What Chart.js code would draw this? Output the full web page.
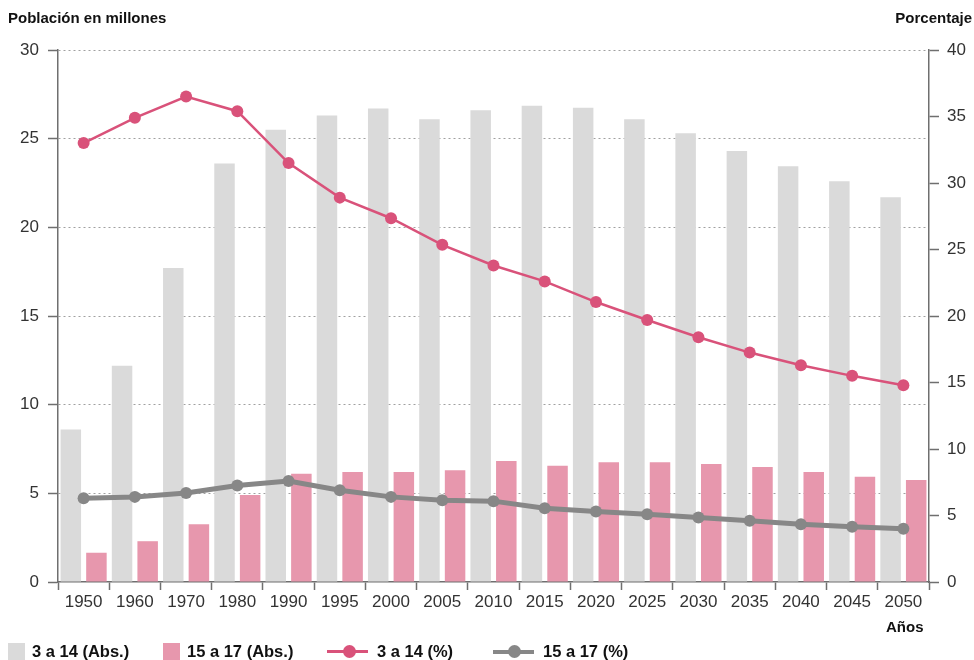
<!DOCTYPE html>
<html>
<head>
<meta charset="utf-8">
<script src="https://cdn.jsdelivr.net/npm/chart.js@4"></script>
<style>
  body { margin: 0; background: #fff; font-family: "Liberation Sans", Arial, sans-serif; }
  #wrap { position: relative; width: 974px; height: 660px; overflow: hidden; }
  #chart { position: absolute; left: 0; top: 0; }
  .title { position: absolute; font-weight: bold; font-size: 15px; color: #111; }
  .leg { position: absolute; top: 643px; height: 17px; font-weight: bold; font-size: 16.5px; color: #111; line-height: 17px; white-space: nowrap; }
  .sq { position: absolute; top: 643px; width: 17px; height: 17px; }
  .ln { position: absolute; top: 650px; height: 3px; width: 41px; }
  .dot { position: absolute; top: 645px; width: 13px; height: 13px; border-radius: 50%; }
</style>
</head>
<body>
<div id="wrap">
  <canvas id="chart" width="974" height="660"></canvas>
  <div class="title" style="left:8px; top:9px;">Población en millones</div>
  <div class="title" style="right:2px; top:9px;">Porcentaje</div>
  <div class="title" style="left:886px; top:618px;">Años</div>

  <div class="sq" style="left:8px; background:#dadada;"></div>
  <div class="leg" style="left:32px;">3 a 14 (Abs.)</div>
  <div class="sq" style="left:163px; background:#e797ad;"></div>
  <div class="leg" style="left:187px;">15 a 17 (Abs.)</div>
  <div class="ln" style="left:327px; background:#d9527a;"></div>
  <div class="dot" style="left:343px; background:#d9527a;"></div>
  <div class="leg" style="left:377px;">3 a 14 (%)</div>
  <div class="ln" style="left:493px; background:#878787; height:4px; top:650px;"></div>
  <div class="dot" style="left:508px; background:#878787;"></div>
  <div class="leg" style="left:543px;">15 a 17 (%)</div>
</div>
<script>
const years = ["1950", "1960", "1970", "1980", "1990", "1995", "2000", "2005", "2010", "2015", "2020", "2025", "2030", "2035", "2040", "2045", "2050"];

// millones (eje izquierdo)
const abs3a14 = [8.6, 12.2, 17.7, 23.6, 25.5, 26.3, 26.7, 26.1, 26.6, 26.85, 26.75, 26.1, 25.3, 24.3, 23.45, 22.6, 21.7];
const abs15a17 = [1.65, 2.3, 3.25, 4.9, 6.1, 6.2, 6.2, 6.3, 6.82, 6.56, 6.75, 6.75, 6.65, 6.49, 6.2, 5.94, 5.75];

// porcentaje (eje derecho)
const pct3a14 = [33.0, 34.9, 36.5, 35.4, 31.5, 28.9, 27.35, 25.35, 23.8, 22.6, 21.05, 19.7, 18.4, 17.25, 16.3, 15.5, 14.8];
const pct15a17 = [6.3, 6.4, 6.7, 7.25, 7.6, 6.9, 6.4, 6.15, 6.08, 5.55, 5.3, 5.1, 4.85, 4.6, 4.35, 4.15, 4.0];

const tickFont = { family: "'Liberation Sans', Arial, sans-serif", size: 17 };
const axisCol = "#6f6f6f";

const ctx = document.getElementById("chart").getContext("2d");

new Chart(ctx, {
  type: "bar",
  data: {
    labels: years,
    datasets: [
      {
        type: "line",
        label: "3 a 14 (%)",
        data: pct3a14,
        yAxisID: "y2",
        borderColor: "#d9527a",
        backgroundColor: "#d9527a",
        borderWidth: 2.5,
        pointRadius: 6,
        pointBorderWidth: 0,
        tension: 0,
        order: 0,
      },
      {
        type: "line",
        label: "15 a 17 (%)",
        data: pct15a17,
        yAxisID: "y2",
        borderColor: "#878787",
        backgroundColor: "#878787",
        borderWidth: 5,
        pointRadius: 6,
        pointBorderWidth: 0,
        tension: 0,
        order: 1,
      },
      {
        label: "3 a 14 (Abs.)",
        data: abs3a14,
        yAxisID: "y",
        backgroundColor: "#dadada",
        categoryPercentage: 1,
        barPercentage: 0.8,
        order: 2,
      },
      {
        label: "15 a 17 (Abs.)",
        data: abs15a17,
        yAxisID: "y",
        backgroundColor: "#e797ad",
        categoryPercentage: 1,
        barPercentage: 0.8,
        order: 3,
      },
    ],
  },
  options: {
    responsive: false,
    animation: false,
    layout: { padding: { top: 50, bottom: 48, left: 0, right: 0 } },
    plugins: {
      legend: { display: false },
      tooltip: { enabled: false },
    },
    scales: {
      x: {
        offset: true,
        grid: {
          offset: true,
          drawOnChartArea: false,
          drawTicks: true,
          tickLength: 8,
          tickColor: axisCol,
          tickWidth: 1.5,
        },
        border: { color: axisCol, width: 1.5 },
        ticks: { color: "#333", font: tickFont, padding: 2, maxRotation: 0, autoSkip: false },
        afterFit: (scale) => { scale.height = 30; },
      },
      y: {
        position: "left",
        min: 0,
        max: 30,
        ticks: { stepSize: 5, color: "#333", font: tickFont, padding: 9 },
        grid: {
          color: (c) => (c.tick && c.tick.value === 0 ? "rgba(0,0,0,0)" : "#a0a0a0"),
          lineWidth: 1,
          tickLength: 10,
          tickColor: axisCol,
          tickWidth: 1.5,
        },
        border: { color: axisCol, width: 1.5, dash: [2, 3] },
        afterFit: (scale) => { scale.width = 58; },
      },
      y2: {
        position: "right",
        min: 0,
        max: 40,
        ticks: { stepSize: 5, color: "#333", font: tickFont, padding: 8 },
        grid: {
          drawOnChartArea: false,
          tickLength: 10,
          tickColor: axisCol,
          tickWidth: 1.5,
        },
        border: { color: axisCol, width: 1.5 },
        afterFit: (scale) => { scale.width = 45; },
      },
    },
  },
});
</script>
</body>
</html>
